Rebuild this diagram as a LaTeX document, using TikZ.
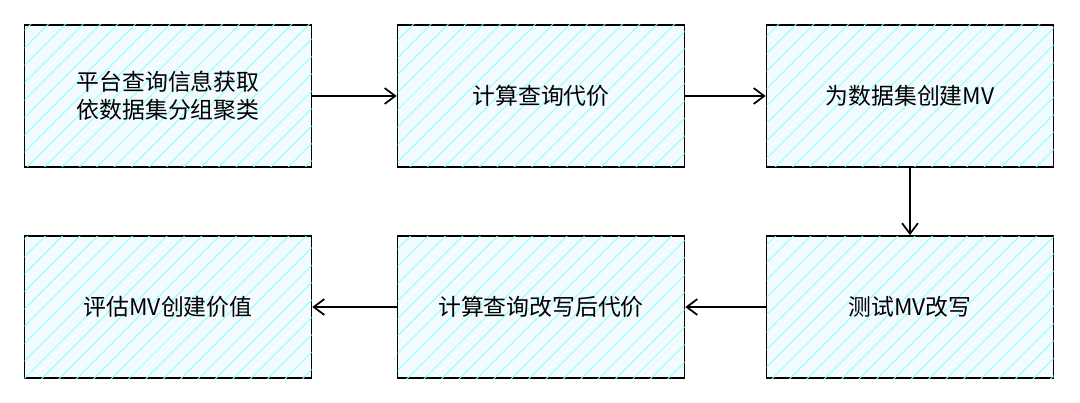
\documentclass[tikz,border=0pt]{standalone}
\usepackage{fontspec}
\newfontfamily\cjk{Noto Sans CJK SC}
\usetikzlibrary{positioning, arrows.meta, patterns.meta}

\begin{document}
\begin{tikzpicture}[>={Straight Barb[length=6pt,width=9pt]},
    stepbox/.style={draw, line width=0.9pt, minimum width=5.74cm, minimum height=2.84cm,
      fill=cyan!5, postaction={pattern={Lines[angle=45,distance=7pt,line width=0.5pt]}, pattern color=cyan!45},
      font=\cjk\fontsize{13pt}{16pt}\selectfont, align=center},
    flow/.style={->, line width=1pt}]
    \useasboundingbox (0,0) rectangle (21.6,-8.06);
    \node[stepbox] (collect) at (3.36,-1.92) {平台查询信息获取\\依数据集分组聚类};
    \node[stepbox] (cost) at (10.82,-1.92) {计算查询代价};
    \node[stepbox] (create) at (18.2,-1.92) {为数据集创建MV};
    \node[stepbox] (rewrite) at (18.2,-6.14) {测试MV改写};
    \node[stepbox] (newcost) at (10.82,-6.14) {计算查询改写后代价};
    \node[stepbox] (value) at (3.36,-6.14) {评估MV创建价值};

    \draw[flow] (collect) -- (cost);
    \draw[flow] (cost) -- (create);
    \draw[flow] (create) -- (rewrite);
    \draw[flow] (rewrite) -- (newcost);
    \draw[flow] (newcost) -- (value);
\end{tikzpicture}
\end{document}
